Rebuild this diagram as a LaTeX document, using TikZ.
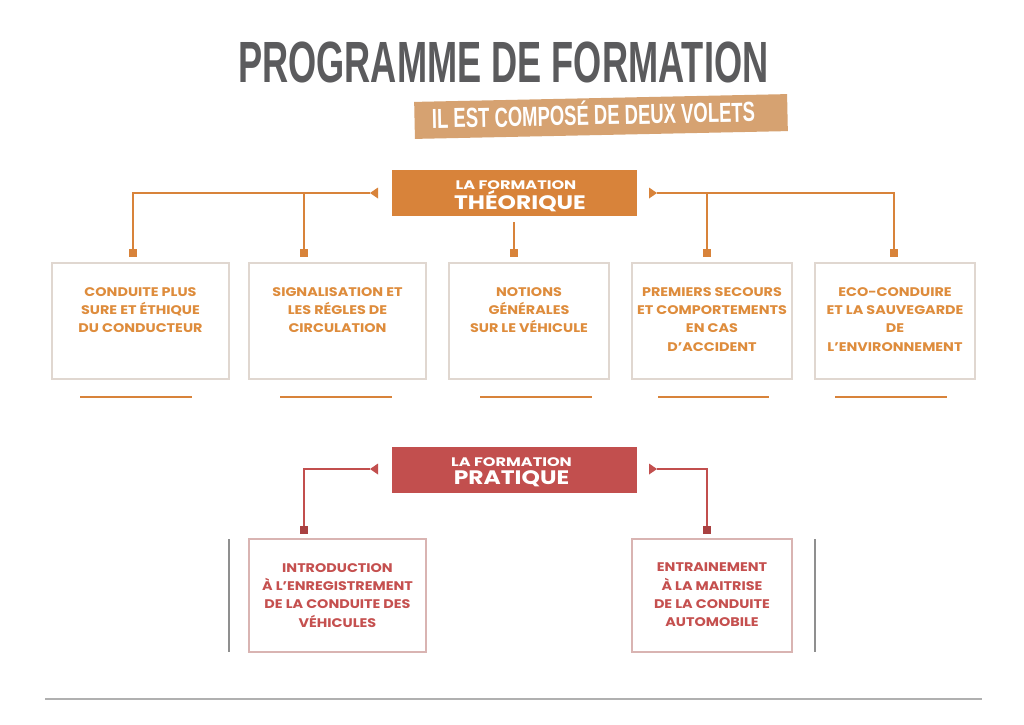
\documentclass[tikz,border=0pt]{standalone}
\usepackage{fontspec}
\usepackage{graphicx}
\setmainfont{Poppins}
\newfontfamily\titlefont{Liberation Sans}
\definecolor{titlegray}{HTML}{5B5B5D}
\definecolor{tanC}{HTML}{D6A271}
\definecolor{orangeC}{HTML}{D8833A}
\definecolor{otext}{HTML}{DE8C3C}
\definecolor{redC}{HTML}{C24F4E}
\definecolor{rtext}{HTML}{C5504F}
\definecolor{rdark}{HTML}{A94141}
\definecolor{tborder}{HTML}{E0D7D0}
\definecolor{pborder}{HTML}{D9B4B2}
\definecolor{glineC}{HTML}{8F8F8F}
\definecolor{blineC}{HTML}{B0B0B0}
\newcommand{\capbox}[1]{\raisebox{0pt}[\fontcharht\font`E][0pt]{#1}}
\tikzset{
  hdr/.style={minimum width=245pt, minimum height=46pt, inner sep=0pt},
  hsmall/.style={inner sep=0pt, text=white, font=\fontsize{12.4}{15}\selectfont\bfseries\addfontfeature{FakeStretch=1.3}},
  hbig/.style={inner sep=0pt, text=white, font=\fontsize{19.5}{22}\selectfont\bfseries\addfontfeature{FakeStretch=1.2}},
  tbox/.style={draw=tborder, line width=1.2pt, minimum width=#1, minimum height=116pt, inner sep=0pt},
  pbox/.style={draw=pborder, line width=1.2pt, minimum width=#1, minimum height=113pt, inner sep=0pt},
  ttext/.style={anchor=north, inner sep=0pt, align=center, text=otext, font=\fontsize{12.5}{18.3}\selectfont\bfseries\addfontfeature{FakeStretch=1.15}},
  ptext/.style={anchor=north, inner sep=0pt, align=center, text=rtext, font=\fontsize{12.5}{18.3}\selectfont\bfseries\addfontfeature{FakeStretch=1.15}},
  osq/.style={fill=orangeC, minimum size=8pt, inner sep=0pt},
  rsq/.style={fill=rdark, minimum size=8pt, inner sep=0pt},
  oline/.style={draw=orangeC, line width=1.4pt},
  rline/.style={draw=redC, line width=1.4pt},
  uline/.style={draw=orangeC, line width=1.3pt},
}
\begin{document}
\begin{tikzpicture}[x=1pt, y=-1pt]
\useasboundingbox (0,0) rectangle (1024,724);
\fill[white] (0,0) rectangle (1024,724);
% title
\node[anchor=north west, inner sep=0pt, text=titlegray] (title) at (238,42)
  {\resizebox{530pt}{40pt}{\titlefont\bfseries\capbox{PROGRAMME DE FORMATION}}};
% banner
\node[rotate=1.2, fill=tanC, minimum width=373pt, minimum height=37pt, inner sep=0pt] (banner) at (601,116.5) {};
\node[rotate=1.2, inner sep=0pt, text=white] (bannertext) at (593.5,115.5)
  {\resizebox{323pt}{19pt}{\titlefont\bfseries\capbox{IL EST COMPOSÉ DE DEUX VOLETS}}};
% theory header
\node[hdr, fill=orangeC] (theo) at (514,193) {};
\node[hsmall] (theo1) at (516,185.5) {\capbox{LA FORMATION}};
\node[hbig] (theo2) at (520,202.5) {\capbox{THÉORIQUE}};
% theory boxes
\node[tbox=177pt] (tb1) at (140.5,321) {};
\node[tbox=177pt] (tb2) at (337.5,321) {};
\node[tbox=160pt] (tb3) at (529,321) {};
\node[tbox=160pt] (tb4) at (712,321) {};
\node[tbox=160pt] (tb5) at (895,321) {};
\node[ttext] (tt1) at (140.5,287) {CONDUITE PLUS\\SURE ET ÉTHIQUE\\DU CONDUCTEUR};
\node[ttext] (tt2) at (337.5,287) {SIGNALISATION ET\\LES RÉGLES DE\\CIRCULATION};
\node[ttext] (tt3) at (529,287) {NOTIONS\\GÉNÉRALES\\SUR LE VÉHICULE};
\node[ttext] (tt4) at (712,287) {PREMIERS SECOURS\\ET COMPORTEMENTS\\EN CAS\\D’ACCIDENT};
\node[ttext] (tt5) at (895,287) {ECO-CONDUIRE\\ET LA SAUVEGARDE\\DE\\L’ENVIRONNEMENT};
% squares
\node[osq] (s1) at (133,253) {};
\node[osq] (s2) at (304,253) {};
\node[osq] (s3) at (514,253) {};
\node[osq] (s4) at (707,253) {};
\node[osq] (s5) at (894,253) {};
% triangles and connectors
\coordinate (tl) at (370,193);
\coordinate (tr) at (657,193);
\fill[orangeC] (tl) -- ++(8,-5.5) -- ++(0,11) -- cycle;
\fill[orangeC] (tr) -- ++(-8,-5.5) -- ++(0,11) -- cycle;
\draw[oline] (tl) -| (s1);
\draw[oline] (tl) -| (s2);
\draw[oline] (tr) -| (s4);
\draw[oline] (tr) -| (s5);
\draw[oline] ([yshift=-6pt]theo.south) -- (s3);
% underlines
\coordinate (u1a) at (80,397); \coordinate (u1b) at (192,397);
\coordinate (u2a) at (280,397); \coordinate (u2b) at (392,397);
\coordinate (u3a) at (480,397); \coordinate (u3b) at (592,397);
\coordinate (u4a) at (658,397); \coordinate (u4b) at (769,397);
\coordinate (u5a) at (835,397); \coordinate (u5b) at (947,397);
\draw[uline] (u1a) -- (u1b);
\draw[uline] (u2a) -- (u2b);
\draw[uline] (u3a) -- (u3b);
\draw[uline] (u4a) -- (u4b);
\draw[uline] (u5a) -- (u5b);
% practical header
\node[hdr, fill=redC] (prat) at (514,469.5) {};
\node[hsmall] (prat1) at (511.5,462) {\capbox{LA FORMATION}};
\node[hbig] (prat2) at (511.5,477.5) {\capbox{PRATIQUE}};
% practical boxes
\node[pbox=177pt] (pb1) at (337.5,595.5) {};
\node[pbox=160pt] (pb2) at (712,595.5) {};
\node[ptext] (pt1) at (337.5,563) {INTRODUCTION\\À L’ENREGISTREMENT\\DE LA CONDUITE DES\\VÉHICULES};
\node[ptext] (pt2) at (712,563) {ENTRAINEMENT\\À LA MAITRISE\\DE LA CONDUITE\\AUTOMOBILE};
\node[rsq] (r1) at (304,530) {};
\node[rsq] (r2) at (707,530) {};
\coordinate (pl) at (370,469);
\coordinate (pr) at (657,469);
\fill[redC] (pl) -- ++(8,-5.5) -- ++(0,11) -- cycle;
\fill[redC] (pr) -- ++(-8,-5.5) -- ++(0,11) -- cycle;
\draw[rline] (pl) -| (r1);
\draw[rline] (pr) -| (r2);
% gray side lines
\coordinate (g1a) at (229,539); \coordinate (g1b) at (229,652);
\coordinate (g2a) at (815,539); \coordinate (g2b) at (815,652);
\draw[draw=glineC, line width=1.5pt] (g1a) -- (g1b);
\draw[draw=glineC, line width=1.5pt] (g2a) -- (g2b);
% bottom rule
\coordinate (bl) at (45,699); \coordinate (br) at (982,699);
\draw[draw=blineC, line width=2pt] (bl) -- (br);
\end{tikzpicture}
\end{document}
